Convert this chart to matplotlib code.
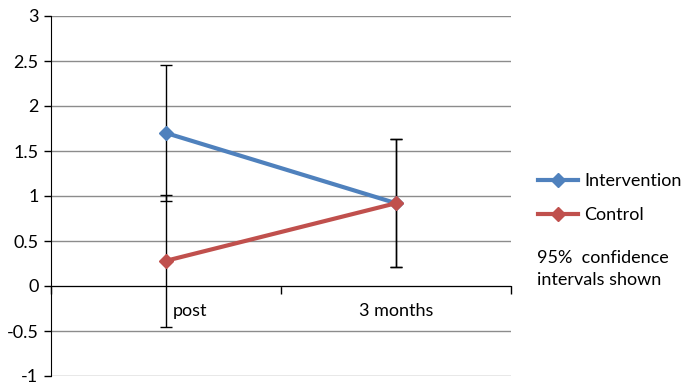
import matplotlib
matplotlib.use("Agg")
import matplotlib.pyplot as plt
from matplotlib.lines import Line2D

plt.rcParams['font.family'] = ['Lato', 'DejaVu Sans']

categories = ["post", "3 months"]
intervention = [1.70, 0.92]
intervention_lo = [0.95, 0.21]
intervention_hi = [2.45, 1.63]
control = [0.28, 0.92]
control_lo = [-0.46, 0.21]
control_hi = [1.01, 1.63]
yticks = [-1, -0.5, 0, 0.5, 1, 1.5, 2, 2.5, 3]
ytick_labels = ["-1", "-0.5", "0", "0.5", "1", "1.5", "2", "2.5", "3"]

blue = "#4F81BD"
red = "#C0504D"

fig = plt.figure(figsize=(6.86, 3.85), dpi=100)
ax = fig.add_axes([51 / 686, 9 / 385, 460 / 686, 360 / 385])
ax.set_xlim(-0.5, 1.5)
ax.set_ylim(-1, 3)

x = list(range(len(categories)))

for vals, lo, hi in [(intervention, intervention_lo, intervention_hi),
                     (control, control_lo, control_hi)]:
    err = [[v - l for v, l in zip(vals, lo)], [h - v for v, h in zip(vals, hi)]]
    ax.errorbar(x, vals, yerr=err, fmt="none", ecolor="black",
                elinewidth=1.0, capsize=4, capthick=1.0, zorder=3)

ax.plot(x, intervention, color=blue, lw=3.0, marker="D", ms=7,
        mec=blue, mfc=blue, zorder=4, solid_capstyle="butt")
ax.plot(x, control, color=red, lw=3.0, marker="D", ms=7,
        mec=red, mfc=red, zorder=5, solid_capstyle="butt")

# grid and axes
ax.set_yticks(yticks)
ax.set_yticklabels(ytick_labels, fontsize=13)
ax.yaxis.grid(True, color="#8c8c8c", lw=1.0)
ax.set_axisbelow(True)
for s in ["top", "right"]:
    ax.spines[s].set_visible(False)
ax.spines["left"].set_color("black")
ax.spines["bottom"].set_position(("data", 0))
ax.spines["bottom"].set_color("black")
ax.tick_params(axis="y", length=5, width=1, color="black", pad=4)
ax.set_xticks([-0.5, 0.5, 1.5])
ax.set_xticklabels([])
ax.tick_params(axis="x", length=6, width=1, direction="out", color="black")

# category labels
ax.text(0.03, -0.28, categories[0], ha="left", va="center", fontsize=13)
ax.text(1.0, -0.28, categories[1], ha="center", va="center", fontsize=13)

# legend
handles = [Line2D([], [], color=blue, lw=3.0, marker="D", ms=7),
           Line2D([], [], color=red, lw=3.0, marker="D", ms=7)]
fig.legend(handles, ["Intervention", "Control"], loc="upper left",
           bbox_to_anchor=(522 / 686, 1 - 157 / 385), frameon=False,
           fontsize=13, handlelength=2.2, handletextpad=0.35, labelspacing=1.0,
           borderpad=0.4)
fig.text(537 / 686, 1 - 269 / 385, "95%  confidence\nintervals shown",
         ha="left", va="center", fontsize=13, linespacing=1.45)

fig.savefig("out.png", dpi=100)
